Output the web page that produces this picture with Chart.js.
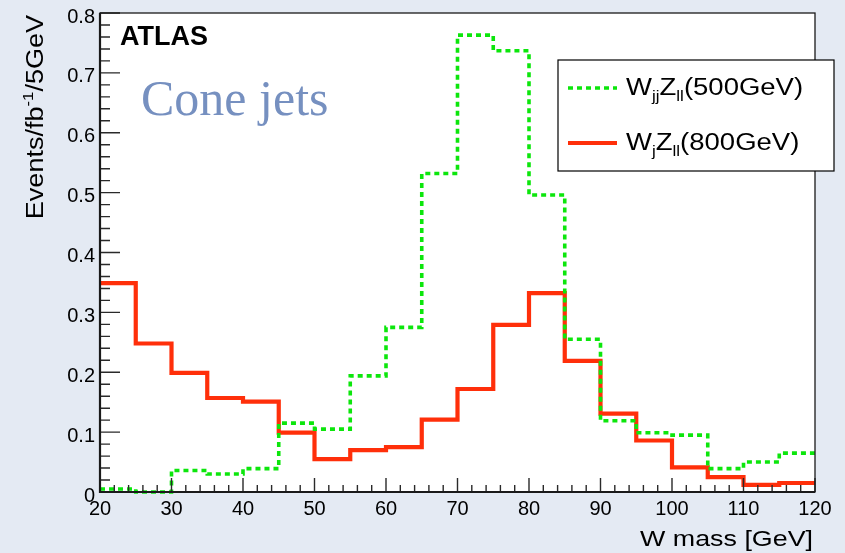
<!DOCTYPE html>
<html>
<head>
<meta charset="utf-8">
<script src="https://cdn.jsdelivr.net/npm/chart.js@4"></script>
<style>
  html, body { margin: 0; padding: 0; background: #e4eaf3; }
  #wrap { width: 845px; height: 553px; position: relative; }
</style>
</head>
<body>
<div id="wrap"><canvas id="c" width="845" height="553"></canvas></div>
<script>
// Bin edges of the W mass histogram [GeV]
const massEdges = [20, 25, 30, 35, 40, 45, 50, 55, 60, 65, 70, 75, 80, 85, 90, 95, 100, 105, 110, 115, 120];

// Events / fb^-1 / 5 GeV per bin
const wjjZll500 = [0.005, 0.000, 0.036, 0.030, 0.039, 0.115, 0.105, 0.194, 0.275, 0.532,
                   0.763, 0.737, 0.496, 0.255, 0.119, 0.099, 0.095, 0.039, 0.050, 0.065];
const wjZll800  = [0.349, 0.248, 0.199, 0.157, 0.151, 0.099, 0.055, 0.070, 0.075, 0.121,
                   0.172, 0.279, 0.332, 0.219, 0.131, 0.086, 0.041, 0.025, 0.012, 0.015];

const seriesLabels = ['W_{jj}Z_{ll}(500GeV)', 'W_{j}Z_{ll}(800GeV)'];
const xTitle = 'W mass [GeV]';
const yTitle = 'Events/fb^{-1}/5GeV';
const expLabel = 'ATLAS';
const algoLabel = 'Cone jets';

const SANS = '"Liberation Sans", Arial, Helvetica, sans-serif';

// histogram contents -> step outline points: each bin's value sits at its left edge,
// the last value is repeated at the right edge of the final bin
function stepPoints(values) {
  return massEdges.map((x, i) => ({ x, y: values[Math.min(i, values.length - 1)] }));
}

// "A_{b}C^{d}" -> list of text runs with size and vertical shift
function parseRich(str) {
  const out = [];
  const re = /([_^])\{([^}]*)\}/g;
  let last = 0, m;
  while ((m = re.exec(str)) !== null) {
    if (m.index > last) out.push({ t: str.slice(last, m.index), s: 1, dy: 0 });
    out.push({ t: m[2], s: 0.62, dy: m[1] === '_' ? 0.26 : -0.42 });
    last = re.lastIndex;
  }
  if (last < str.length) out.push({ t: str.slice(last), s: 1, dy: 0 });
  return out;
}

function richWidth(ctx, runs, size, weight, family) {
  let w = 0;
  for (const r of runs) {
    ctx.font = `${weight} ${size * r.s}px ${family}`;
    w += ctx.measureText(r.t).width;
  }
  return w;
}

// draws rich text at (x, y) baseline; align 'left' | 'right'; sx = horizontal stretch
function drawRich(ctx, str, x, y, opt) {
  const size = opt.size, weight = opt.weight || 'normal', family = opt.family || SANS;
  const sx = opt.sx || 1;
  const runs = parseRich(str);
  ctx.save();
  ctx.translate(x, y);
  if (opt.rotate) ctx.rotate(opt.rotate);
  ctx.scale(sx, 1);
  ctx.fillStyle = opt.color || '#000';
  ctx.textBaseline = 'alphabetic';
  ctx.textAlign = 'left';
  let cx = opt.align === 'right' ? -richWidth(ctx, runs, size, weight, family) : 0;
  for (const r of runs) {
    ctx.font = `${weight} ${size * r.s}px ${family}`;
    ctx.fillText(r.t, cx, r.dy * size);
    cx += ctx.measureText(r.t).width;
  }
  ctx.restore();
}

const rootStyle = {
  id: 'rootStyle',
  beforeDatasetsDraw(chart) {
    const { ctx, chartArea: a } = chart;
    ctx.save();
    ctx.fillStyle = '#ffffff';
    ctx.fillRect(a.left, a.top, a.right - a.left, a.bottom - a.top);
    ctx.restore();
  },
  afterDatasetsDraw(chart) {
    const { ctx, chartArea: a, scales } = chart;
    const xs = scales.x, ys = scales.y;
    ctx.save();
    ctx.strokeStyle = '#2a2a2a';
    ctx.lineWidth = 1.4;
    ctx.beginPath();
    // y ticks: major + 4 minor per interval, pointing inwards
    const yt = ys.ticks.map(t => t.value);
    for (let i = 0; i < yt.length; i++) {
      const py = ys.getPixelForValue(yt[i]);
      ctx.moveTo(a.left, py); ctx.lineTo(a.left + 20, py);
      if (i < yt.length - 1) {
        for (let k = 1; k < 5; k++) {
          const v = yt[i] + (yt[i + 1] - yt[i]) * k / 5;
          const pm = ys.getPixelForValue(v);
          ctx.moveTo(a.left, pm); ctx.lineTo(a.left + 10, pm);
        }
      }
    }
    // x ticks
    const xt = xs.ticks.map(t => t.value);
    for (let i = 0; i < xt.length; i++) {
      const px = xs.getPixelForValue(xt[i]);
      ctx.moveTo(px, a.bottom); ctx.lineTo(px, a.bottom - 14);
      if (i < xt.length - 1) {
        for (let k = 1; k < 5; k++) {
          const v = xt[i] + (xt[i + 1] - xt[i]) * k / 5;
          const pm = xs.getPixelForValue(v);
          ctx.moveTo(pm, a.bottom); ctx.lineTo(pm, a.bottom - 7);
        }
      }
    }
    ctx.stroke();

    // frame
    ctx.strokeStyle = '#1a1a1a';
    ctx.lineWidth = 1.3;
    ctx.strokeRect(a.left, a.top, a.right - a.left, a.bottom - a.top);
    ctx.lineWidth = 2.2;
    ctx.beginPath();
    ctx.moveTo(a.left, a.top); ctx.lineTo(a.left, a.bottom); ctx.lineTo(a.right, a.bottom);
    ctx.stroke();
    ctx.restore();
  },
  afterDraw(chart) {
    const { ctx, chartArea: a } = chart;
    // axis titles
    drawRich(ctx, xTitle, a.right - 2, 546, { size: 22, align: 'right', sx: 1.22 });
    drawRich(ctx, yTitle, 43, 15, { size: 23.5, align: 'right', sx: 1.15, rotate: -Math.PI / 2 });

    // labels inside the frame
    drawRich(ctx, expLabel, 120, 45, { size: 27, weight: 'bold' });
    drawRich(ctx, algoLabel, 141, 115, { size: 50, family: '"Liberation Serif", "Times New Roman", serif', color: '#7690c0' });

    // legend box
    const bx = 558, by = 60, bw = 276, bh = 111;
    ctx.save();
    ctx.fillStyle = '#ffffff';
    ctx.fillRect(bx, by, bw, bh);
    ctx.strokeStyle = '#000';
    ctx.lineWidth = 1.2;
    ctx.strokeRect(bx, by, bw, bh);
    ctx.restore();
    const rows = [88, 143];
    chart.data.datasets.forEach((ds, i) => {
      ctx.save();
      ctx.strokeStyle = ds.borderColor;
      ctx.lineWidth = ds.borderWidth;
      ctx.setLineDash(ds.borderDash || []);
      ctx.beginPath();
      ctx.moveTo(568, rows[i]); ctx.lineTo(617, rows[i]);
      ctx.stroke();
      ctx.restore();
      drawRich(ctx, ds.label, 626, rows[i] + 7, { size: 23.5, sx: 1.17 });
    });
  }
};

new Chart(document.getElementById('c'), {
  type: 'line',
  data: {
    datasets: [
      {
        label: seriesLabels[0],
        data: stepPoints(wjjZll500),
        stepped: 'before',
        borderColor: '#0ce60c',
        borderWidth: 3.6,
        borderDash: [5, 4],
        pointRadius: 0,
        fill: false,
        clip: false
      },
      {
        label: seriesLabels[1],
        data: stepPoints(wjZll800),
        stepped: 'before',
        borderColor: '#ff2f0a',
        borderWidth: 4.2,
        pointRadius: 0,
        fill: false,
        clip: false
      }
    ]
  },
  options: {
    responsive: false,
    animation: false,
    layout: { padding: { left: 0, right: 30, top: 13, bottom: 0 } },
    plugins: { legend: { display: false }, tooltip: { enabled: false }, title: { display: false } },
    scales: {
      x: {
        type: 'linear',
        min: 20, max: 120,
        grid: { display: false, drawTicks: false },
        border: { display: false },
        ticks: {
          stepSize: 10, autoSkip: false, maxRotation: 0, padding: 5,
          color: '#000', font: { family: SANS, size: 20 }
        },
        afterFit(scale) { scale.height = 61; scale.paddingLeft = 0; scale.paddingRight = 0; }
      },
      y: {
        type: 'linear',
        min: 0, max: 0.8,
        grid: { display: false, drawTicks: false },
        border: { display: false },
        ticks: {
          stepSize: 0.1, padding: 5, labelOffset: 4,
          color: '#000', font: { family: SANS, size: 20 },
          callback: v => (Math.abs(v) < 1e-9 ? '0' : v.toFixed(1))
        },
        afterFit(scale) { scale.width = 100; scale.paddingTop = 0; scale.paddingBottom = 0; }
      }
    }
  },
  plugins: [rootStyle]
});
</script>
</body>
</html>
